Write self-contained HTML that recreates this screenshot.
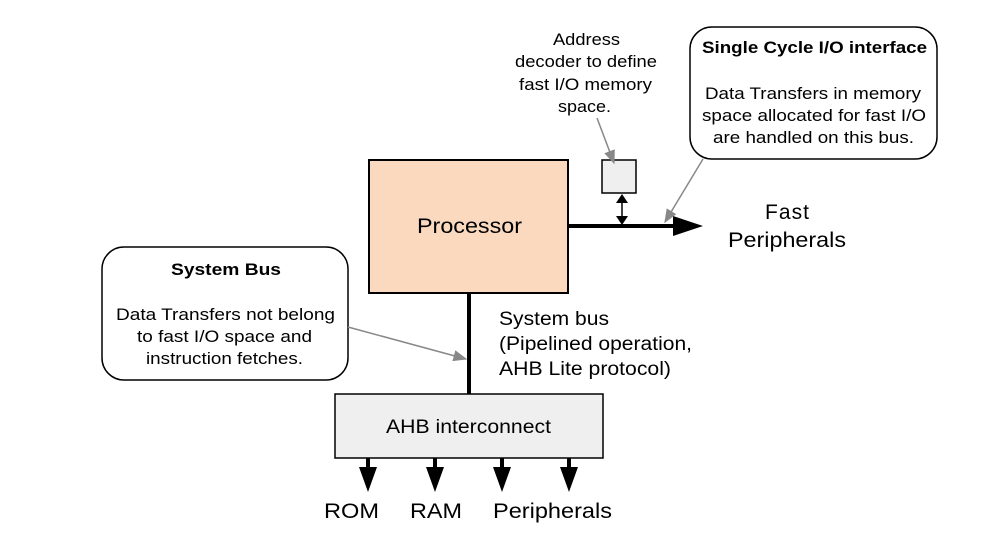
<!DOCTYPE html>
<html><head><meta charset="utf-8"><style>
html,body{margin:0;padding:0;background:#fff}
svg{display:block}
text{font-family:"Liberation Sans",Arial,sans-serif;fill:#000}
</style></head><body>
<svg width="981" height="537" viewBox="0 0 981 537" xmlns="http://www.w3.org/2000/svg">
<defs>
<marker id="g2" viewBox="0 0 10 10" refX="9" refY="5" markerWidth="14" markerHeight="14" markerUnits="userSpaceOnUse" orient="auto"><path d="M0,1 L10,5 L0,9 z" fill="#888"/></marker>
</defs>
<rect x="369" y="160" width="199" height="133" fill="#fad9bf" stroke="#000" stroke-width="2"/>
<text x="417" y="233" font-size="21" textLength="105" lengthAdjust="spacingAndGlyphs">Processor</text>
<rect x="602" y="160" width="34" height="33" fill="#efefef" stroke="#000" stroke-width="1.5"/>
<line x1="568" y1="226" x2="675" y2="226" stroke="#000" stroke-width="4"/>
<path d="M673,216 L703,226 L673,236 z" fill="#000"/>
<line x1="622" y1="199" x2="622" y2="220" stroke="#000" stroke-width="1.5"/>
<path d="M616,203 L622,194 L628,203 z" fill="#000"/>
<path d="M616,216 L622,225 L628,216 z" fill="#000"/>
<text font-size="21" lengthAdjust="spacingAndGlyphs"><tspan x="765" y="219" textLength="44">Fast</tspan></text>
<text x="728" y="247" font-size="21" textLength="118" lengthAdjust="spacingAndGlyphs">Peripherals</text>
<line x1="469" y1="293" x2="469" y2="394" stroke="#000" stroke-width="4"/>
<text x="499" y="325" font-size="19" textLength="110" lengthAdjust="spacingAndGlyphs">System bus</text>
<text x="499" y="350" font-size="19" textLength="193" lengthAdjust="spacingAndGlyphs">(Pipelined operation,</text>
<text x="499" y="375" font-size="19" textLength="172" lengthAdjust="spacingAndGlyphs">AHB Lite protocol)</text>
<rect x="335" y="394" width="268" height="64" fill="#efefef" stroke="#000" stroke-width="1.5"/>
<text x="386" y="433" font-size="19" textLength="165" lengthAdjust="spacingAndGlyphs">AHB interconnect</text>
<g fill="#000">
<rect x="366" y="458" width="4" height="10"/><path d="M359,467 L377,467 L368,492 z"/>
<rect x="433" y="458" width="4" height="10"/><path d="M426,467 L444,467 L435,492 z"/>
<rect x="500" y="458" width="4" height="10"/><path d="M493,467 L511,467 L502,492 z"/>
<rect x="567" y="458" width="4" height="10"/><path d="M560,467 L578,467 L569,492 z"/>
</g>
<text x="324" y="518" font-size="21" textLength="55" lengthAdjust="spacingAndGlyphs">ROM</text>
<text x="410" y="518" font-size="21" textLength="52" lengthAdjust="spacingAndGlyphs">RAM</text>
<text x="493" y="518" font-size="21" textLength="119" lengthAdjust="spacingAndGlyphs">Peripherals</text>
<rect x="102" y="247" width="246" height="133" rx="22" fill="#fff" stroke="#000" stroke-width="1.5"/>
<text x="171" y="275" font-size="17" font-weight="bold" textLength="110" lengthAdjust="spacingAndGlyphs">System Bus</text>
<text x="116" y="320" font-size="17" textLength="219" lengthAdjust="spacingAndGlyphs">Data Transfers not belong</text>
<text x="137" y="342" font-size="17" textLength="175" lengthAdjust="spacingAndGlyphs">to fast I/O space and</text>
<text x="146" y="364" font-size="17" textLength="157" lengthAdjust="spacingAndGlyphs">instruction fetches.</text>
<line x1="348" y1="327" x2="466" y2="359" stroke="#888" stroke-width="1.5" marker-end="url(#g2)"/>
<rect x="690" y="27" width="247" height="132" rx="22" fill="#fff" stroke="#000" stroke-width="1.5"/>
<text x="702" y="53" font-size="17" font-weight="bold" textLength="225" lengthAdjust="spacingAndGlyphs">Single Cycle I/O interface</text>
<text x="705" y="99" font-size="17" textLength="216" lengthAdjust="spacingAndGlyphs">Data Transfers in memory</text>
<text x="702" y="121" font-size="17" textLength="224" lengthAdjust="spacingAndGlyphs">space allocated for fast I/O</text>
<text x="713" y="143" font-size="17" textLength="201" lengthAdjust="spacingAndGlyphs">are handled on this bus.</text>
<line x1="703" y1="159" x2="665" y2="222" stroke="#888" stroke-width="1.5" marker-end="url(#g2)"/>
<text x="553" y="45" font-size="17" textLength="67" lengthAdjust="spacingAndGlyphs">Address</text>
<text x="515" y="67" font-size="17" textLength="142" lengthAdjust="spacingAndGlyphs">decoder to define</text>
<text x="519" y="90" font-size="17" textLength="133" lengthAdjust="spacingAndGlyphs">fast I/O memory</text>
<text x="558" y="112" font-size="17" textLength="53" lengthAdjust="spacingAndGlyphs">space.</text>
<line x1="597" y1="118" x2="614" y2="163" stroke="#888" stroke-width="1.5" marker-end="url(#g2)"/>
</svg>
</body></html>
